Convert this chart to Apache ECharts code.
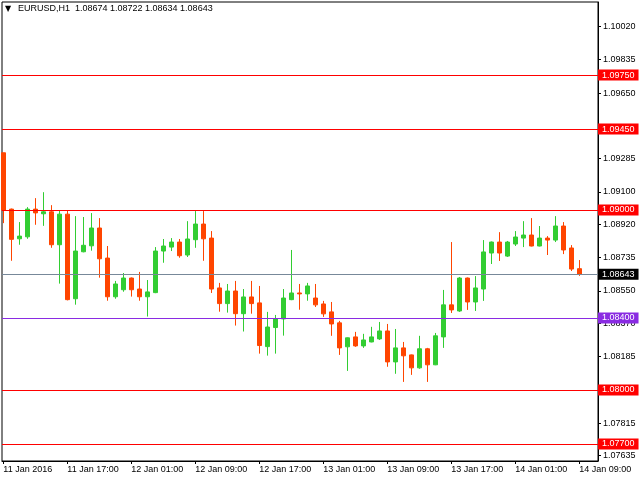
<!DOCTYPE html>
<html><head><meta charset="utf-8">
<script src="https://cdn.jsdelivr.net/npm/echarts@6/dist/echarts.min.js"></script>
<style>html,body{margin:0;padding:0;background:#fff}#c{width:640px;height:480px}</style>
</head><body><div id="c"></div>
<script>
const symbolName = "EURUSD,H1";
const timeLabels = ["11 Jan 2016","11 Jan 17:00","12 Jan 01:00","12 Jan 09:00","12 Jan 17:00","13 Jan 01:00","13 Jan 09:00","13 Jan 17:00","14 Jan 01:00","14 Jan 09:00"];
const timeTickIdx = [0,8,16,24,32,40,48,56,64,72];
const opens = [1.09318,1.09005,1.08840,1.08851,1.09005,1.08979,1.08990,1.08807,1.08977,1.08507,
1.08768,1.08801,1.08900,1.08733,1.08518,1.08557,1.08622,1.08561,1.08518,1.08541,
1.08772,1.08794,1.08822,1.08750,1.08835,1.08922,1.08844,1.08567,1.08480,1.08550,
1.08424,1.08517,1.08484,1.08241,1.08347,1.08395,1.08502,1.08539,1.08534,1.08511,
1.08478,1.08434,1.08373,1.08240,1.08295,1.08245,1.08267,1.08284,1.08328,1.08156,
1.08234,1.08195,1.08123,1.08229,1.08140,1.08295,1.08473,1.08439,1.08622,1.08489,
1.08561,1.08761,1.08822,1.08744,1.08811,1.08844,1.08861,1.08800,1.08844,1.08833,
1.08911,1.08789,1.08674];
const closes = [1.08999,1.08837,1.08855,1.09005,1.08984,1.08990,1.08807,1.08977,1.08502,1.08772,
1.08804,1.08900,1.08729,1.08518,1.08589,1.08622,1.08557,1.08518,1.08545,1.08772,
1.08800,1.08822,1.08746,1.08839,1.08922,1.08840,1.08561,1.08480,1.08550,1.08424,
1.08517,1.08480,1.08247,1.08350,1.08395,1.08511,1.08539,1.08534,1.08578,1.08473,
1.08423,1.08367,1.08234,1.08290,1.08245,1.08278,1.08295,1.08328,1.08156,1.08234,
1.08190,1.08123,1.08229,1.08140,1.08301,1.08473,1.08445,1.08622,1.08489,1.08567,
1.08767,1.08822,1.08761,1.08822,1.08850,1.08861,1.08800,1.08844,1.08833,1.08911,
1.08778,1.08672,1.08643];
const lows = [1.08927,1.08718,1.08807,1.08840,1.08918,1.08912,1.08790,1.08591,1.08498,1.08474,
1.08765,1.08774,1.08624,1.08496,1.08507,1.08546,1.08519,1.08496,1.08408,1.08538,
1.08707,1.08772,1.08735,1.08739,1.08790,1.08718,1.08539,1.08435,1.08430,1.08358,
1.08325,1.08424,1.08202,1.08191,1.08202,1.08302,1.08499,1.08446,1.08496,1.08461,
1.08406,1.08301,1.08195,1.08106,1.08240,1.08234,1.08265,1.08278,1.08129,1.08090,
1.08045,1.08084,1.08118,1.08045,1.08138,1.08234,1.08428,1.08434,1.08445,1.08439,
1.08495,1.08700,1.08717,1.08739,1.08800,1.08794,1.08798,1.08798,1.08750,1.08822,
1.08755,1.08661,1.08634];
const highs = [1.09318,1.09008,1.08933,1.09016,1.09066,1.09099,1.09027,1.08996,1.08996,1.08966,
1.08961,1.08983,1.08955,1.08800,1.08606,1.08650,1.08625,1.08656,1.08611,1.08794,
1.08839,1.08844,1.08839,1.08938,1.08994,1.08994,1.08883,1.08595,1.08589,1.08606,
1.08561,1.08606,1.08578,1.08434,1.08417,1.08561,1.08778,1.08589,1.08595,1.08589,
1.08495,1.08489,1.08384,1.08292,1.08323,1.08312,1.08351,1.08378,1.08367,1.08339,
1.08267,1.08197,1.08301,1.08234,1.08317,1.08556,1.08822,1.08628,1.08625,1.08633,
1.08833,1.08825,1.08877,1.08828,1.08883,1.08938,1.08955,1.08911,1.08855,1.08966,
1.08933,1.08805,1.08722];
const priceTicks = [1.10020,1.09835,1.09650,1.09285,1.09100,1.08920,1.08735,1.08550,1.08370,1.08185,1.07815,1.07635];
const redLevels = [1.09750,1.09450,1.09000,1.08000,1.07700];
const purpleLevels = [1.08400];
const bidPrice = 1.08643;

const FONT = "Liberation Sans";
const candles = opens.map((o, i) => [i, o, closes[i], lows[i], highs[i]]);
const last = opens.length - 1;
const titleText = symbolName + "  " + [opens[last], highs[last], lows[last], closes[last]].map(v => v.toFixed(5)).join(" ");

function lvl(v, color, bg) {
  return { yAxis: v, lineStyle: { color: color, width: 1, type: 'solid' },
    label: { backgroundColor: bg || color } };
}
const markData = []
  .concat(redLevels.map(v => lvl(v, '#FF0000')))
  .concat(purpleLevels.map(v => lvl(v, '#8A2BE2')))
  .concat([lvl(bidPrice, '#778899', '#000000')]);

const chart = echarts.init(document.getElementById('c'), null, { renderer: 'canvas' });
chart.setOption({
  animation: false,
  backgroundColor: '#ffffff',
  textStyle: { fontFamily: FONT },
  title: { text: titleText, left: 18, top: 4, padding: 0,
    textStyle: { fontSize: 9, fontWeight: 'normal', color: '#000', fontFamily: FONT } },
  graphic: [{ type: 'text', left: 5, top: 5, style: { text: '▼', fontSize: 8, fill: '#000', fontFamily: 'DejaVu Sans' } }],
  grid: { left: 2, top: 2, width: 596, height: 459, show: true, borderColor: '#000', borderWidth: 1, backgroundColor: 'transparent' },
  xAxis: {
    type: 'value', min: -0.1625, max: 74.3375,
    splitLine: { show: false },
    axisLine: { show: true, onZero: false, lineStyle: { color: '#000', width: 1 } },
    axisTick: { show: true, customValues: timeTickIdx, length: 3, lineStyle: { color: '#000' } },
    axisLabel: { show: true, customValues: timeTickIdx, align: 'left', margin: 4, fontSize: 9, color: '#000', fontFamily: FONT,
      formatter: v => timeLabels[timeTickIdx.indexOf(Math.round(v))] }
  },
  yAxis: {
    type: 'value', position: 'right', min: 1.076055, max: 1.101557, scale: true,
    splitLine: { show: false },
    axisLine: { show: true, onZero: false, lineStyle: { color: '#000', width: 1 } },
    axisTick: { show: true, customValues: priceTicks, length: 3, lineStyle: { color: '#000' } },
    axisLabel: { show: true, customValues: priceTicks, margin: 5, fontSize: 9, color: '#000', fontFamily: FONT,
      formatter: v => v.toFixed(5) }
  },
  series: [{
    type: 'candlestick',
    data: candles,
    encode: { x: 0, y: [1, 2, 3, 4] },
    barWidth: 4,
    itemStyle: { color: '#32CD32', color0: '#FF4500', borderColor: '#32CD32', borderColor0: '#FF4500', borderWidth: 1 },
    markLine: {
      silent: true, symbol: ['none', 'none'], animation: false, precision: 5,
      label: { show: true, position: 'end', distance: 0, color: '#fff', fontSize: 9, fontFamily: FONT,
        padding: [1, 4, 1, 4], formatter: p => Number(p.value).toFixed(5) },
      data: markData
    }
  }]
});
</script></body></html>
